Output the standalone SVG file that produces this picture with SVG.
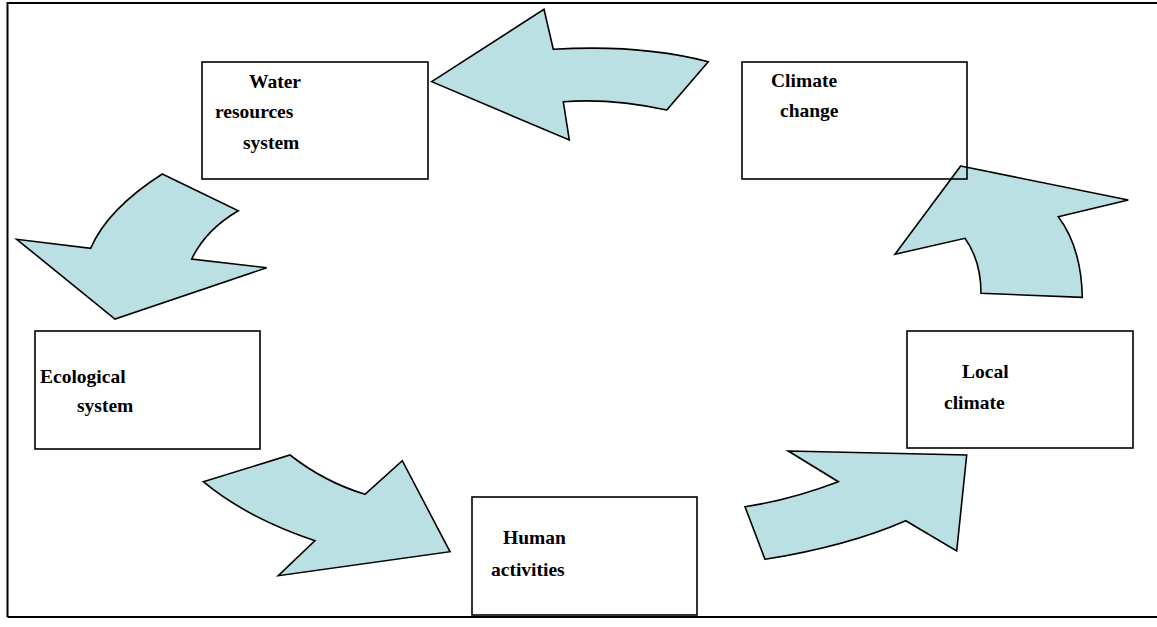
<svg xmlns="http://www.w3.org/2000/svg" width="1157" height="627" viewBox="0 0 1157 627">
<style>
.frame{stroke:#000;stroke-width:2;fill:none}
.arrow{fill:#bae0e3;stroke:#000;stroke-width:1.6;stroke-linejoin:miter}
.box{fill:none;stroke:#000;stroke-width:1.6}
.lbl{font-family:"Liberation Serif","Times New Roman",serif;font-weight:bold;font-size:19.5px;fill:#000}
</style>
<rect width="1157" height="627" fill="#fff"/>
<g id="frame">
<path class="frame" d="M7.5,617 V3 H1157"/>
<path class="frame" d="M7.5,617 H1157"/>
</g>
<g id="connectors">
<path class="arrow" d="M431.7,81.7 L544,9.3 L553.3,49.3 Q640,44 708.3,61.7 L666.7,110 Q612,98 563.3,101.7 L569.3,140 Z"/>
<path class="arrow" d="M162.3,174 L238.3,210.7 Q205.7,229.7 191.7,259 L266.7,267.7 L115,319 L16.7,239.3 L90.7,248.3 Q107.5,209 162.3,174 Z"/>
<path class="arrow" d="M203.3,481.7 L290,455 Q324.1,481.8 365,494.3 L402.3,460.7 L450,551.7 L278.3,575.7 L315,540.7 Q246.5,517.7 203.3,481.7 Z"/>
<path class="arrow" d="M788.3,451 L966.7,455 L956.7,551 L905.7,520.7 Q848,546 765,559.3 L745,506.7 Q790,500 838.3,481.7 Z"/>
<path class="arrow" d="M960.7,166 L1128.3,200 L1058.3,216.7 Q1081.3,247.3 1082.3,297.3 L981,293.3 Q981,260.8 965,238.3 L895,254.3 Z"/>
</g>
<g id="water">
<rect class="box" x="202" y="62" width="226" height="117"/>
<text class="lbl" x="249" y="88">Water</text>
<text class="lbl" x="215" y="118">resources</text>
<text class="lbl" x="243" y="149">system</text>
</g>
<g id="climate-change">
<rect class="box" x="742" y="62" width="225" height="117"/>
<text class="lbl" x="771" y="87">Climate</text>
<text class="lbl" x="780" y="117">change</text>
</g>
<g id="ecological">
<rect class="box" x="35" y="331" width="225" height="118"/>
<text class="lbl" x="40" y="383">Ecological</text>
<text class="lbl" x="77" y="412">system</text>
</g>
<g id="human">
<rect class="box" x="472" y="497" width="225" height="118"/>
<text class="lbl" x="503" y="544">Human</text>
<text class="lbl" x="491" y="576">activities</text>
</g>
<g id="local">
<rect class="box" x="907" y="331" width="226" height="117"/>
<text class="lbl" x="962" y="378">Local</text>
<text class="lbl" x="944" y="409">climate</text>
</g>
</svg>
